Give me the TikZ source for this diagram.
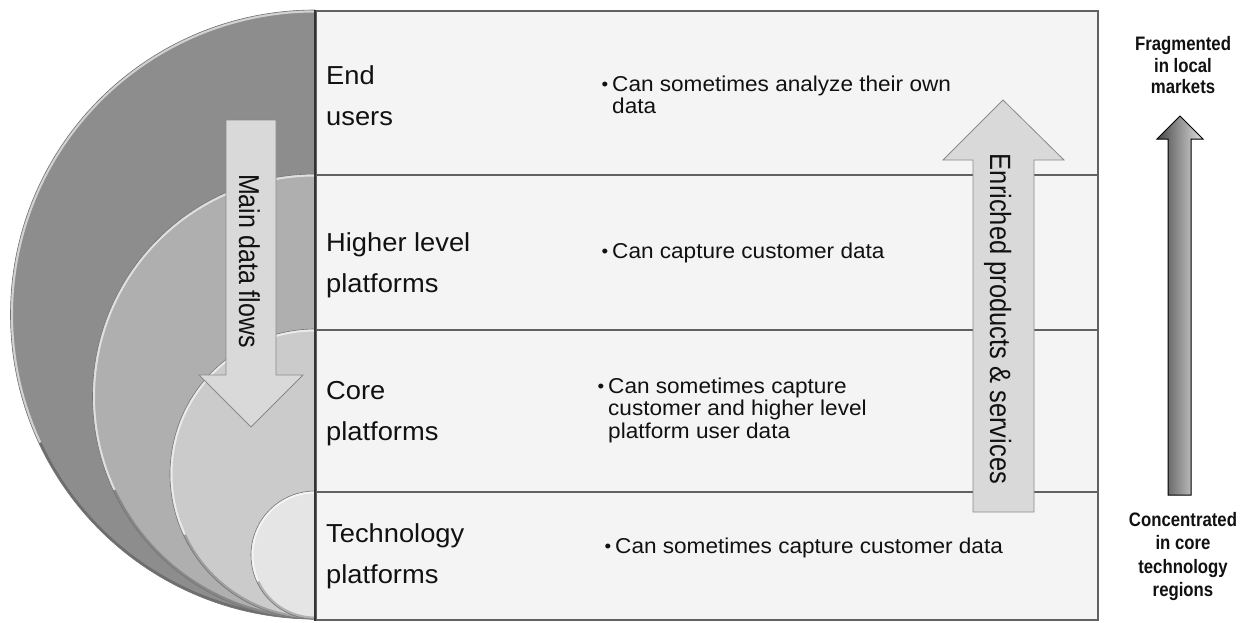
\documentclass[tikz,border=0pt]{standalone}
\usepackage{fontspec}
\usepackage{graphicx}
\setmainfont{Liberation Sans}[FakeStretch=1.05]
\newfontfamily\flowfont{Liberation Sans}
\newfontfamily\sidefont{Liberation Sans}[FakeStretch=0.86]

\definecolor{shellA}{HTML}{8D8D8D}
\definecolor{shellB}{HTML}{AFAFAF}
\definecolor{shellC}{HTML}{CBCBCB}
\definecolor{shellD}{HTML}{E5E5E5}
\definecolor{rowfill}{HTML}{F4F4F4}
\definecolor{arrowfill}{HTML}{D9D9D9}
\definecolor{arrowline}{HTML}{8A8A8A}
\definecolor{ink}{HTML}{111111}

% bullet mark and hanging indent for the description column
\newcommand\bulletmark{\makebox[10.5pt][l]{\raisebox{0.8pt}{\fontsize{18}{18}\selectfont •}}}
\newcommand\hang{\hspace*{10.5pt}}

\begin{document}
\begin{tikzpicture}[x=1pt,y=1pt,
  rowbox/.style={draw=black!62, line width=1.5pt, fill=rowfill,
    minimum width=782pt, minimum height=#1, anchor=north west, inner sep=0pt},
  rowlabel/.style={anchor=north west, inner sep=0pt, align=left, text=ink,
    font=\fontsize{26}{41}\selectfont},
  bullettext/.style={anchor=north west, inner sep=0pt, align=left, text=ink,
    font=\fontsize{21.5}{22.5}\selectfont},
  flowarrow/.style={fill=arrowfill, draw=arrowline, line width=0.8pt, line join=miter},
  flowlabel/.style={rotate=-90, anchor=base, inner sep=0pt, text=ink,
    font=\flowfont\fontsize{#1}{30}\selectfont},
  sidelabel/.style={anchor=north, inner sep=0pt, align=center, text=ink,
    font=\sidefont\bfseries\fontsize{19.5}{#1}\selectfont},
]
\useasboundingbox (0,0) rectangle (1247,-622);
\fill[white] (0,0) rectangle (1247,-622);

% nested half discs with a bevelled rim
\foreach \tp/\col in {10/shellA,174/shellB,329/shellC,491/shellD}{
  \pgfmathsetmacro\rr{(619-\tp)/2}
  \pgfmathsetmacro\cy{-(619+\tp)/2}
  \fill[\col] (315,-\tp) arc[start angle=90,end angle=270,radius=\rr] -- cycle;
  \begin{scope}
    \clip (315,-\tp) arc[start angle=90,end angle=270,radius=\rr] -- cycle;
    \draw[white, opacity=.6, line width=5pt]
      (315,-\tp) arc[start angle=90,end angle=205,radius=\rr];
    \draw[black, opacity=.22, line width=5pt]
      ([shift={(205:\rr)}]315,\cy) arc[start angle=205,end angle=270,radius=\rr];
  \end{scope}
  \draw[black!55, line width=.6pt]
    (315,-\tp) arc[start angle=90,end angle=270,radius=\rr];
}

% table rows
\node[rowbox=164pt] (row1) at (315,-10) {};
\node[rowbox=155pt] (row2) at (315,-174) {};
\node[rowbox=162pt] (row3) at (315,-329) {};
\node[rowbox=128pt] (row4) at (315,-491) {};
\draw[black!80, line width=2.5pt] (row1.north west) -- (row4.south west);

% row labels
\node[rowlabel] (lab1) at (326,-65.4) {End\\users};
\node[rowlabel] (lab2) at (326,-232.4) {Higher level\\platforms};
\node[rowlabel] (lab3) at (326,-381) {Core\\platforms};
\node[rowlabel] (lab4) at (326,-523.4) {Technology\\platforms};

% descriptions
\node[bullettext] (txt1) at (601.5,-75.3)
  {\bulletmark Can sometimes analyze their own\\\hang data};
\node[bullettext] (txt2) at (601.5,-242.3)
  {\bulletmark Can capture customer data};
\node[bullettext] (txt3) at (597.5,-377.3)
  {\bulletmark Can sometimes capture\\\hang customer and higher level\\\hang platform user data};
\node[bullettext] (txt4) at (604.5,-537.3)
  {\bulletmark Can sometimes capture customer data};

% downward arrow: main data flows
\draw[flowarrow] (226,-120) -- (276,-120) -- (276,-375) -- (303,-375)
  -- (251,-427) -- (199,-375) -- (226,-375) -- cycle;
\node[flowlabel=25] (down) at (239,-261) {\scalebox{1}[1.15]{Main data flows}};

% upward arrow: enriched products and services
\draw[flowarrow] (973,-512) -- (973,-160) -- (943,-160) -- (1003,-100)
  -- (1064,-160) -- (1034,-160) -- (1034,-512) -- cycle;
\node[flowlabel=25.5] (up) at (990,-319) {\scalebox{1}[1.15]{Enriched products \& services}};

% scale arrow on the right
\node[sidelabel=21.7pt] (frag) at (1183,-36) {Fragmented\\in local\\markets};
\node[sidelabel=23.5pt] (conc) at (1183,-512) {Concentrated\\in core\\technology\\regions};
\shadedraw[left color=black!72, right color=black!12, draw=black, line width=1pt, line join=miter]
  (1168,-495) -- (1168,-139) -- (1157,-139) -- (1180,-116) -- (1203,-139)
  -- (1191,-139) -- (1191,-495) -- cycle;
\end{tikzpicture}
\end{document}
